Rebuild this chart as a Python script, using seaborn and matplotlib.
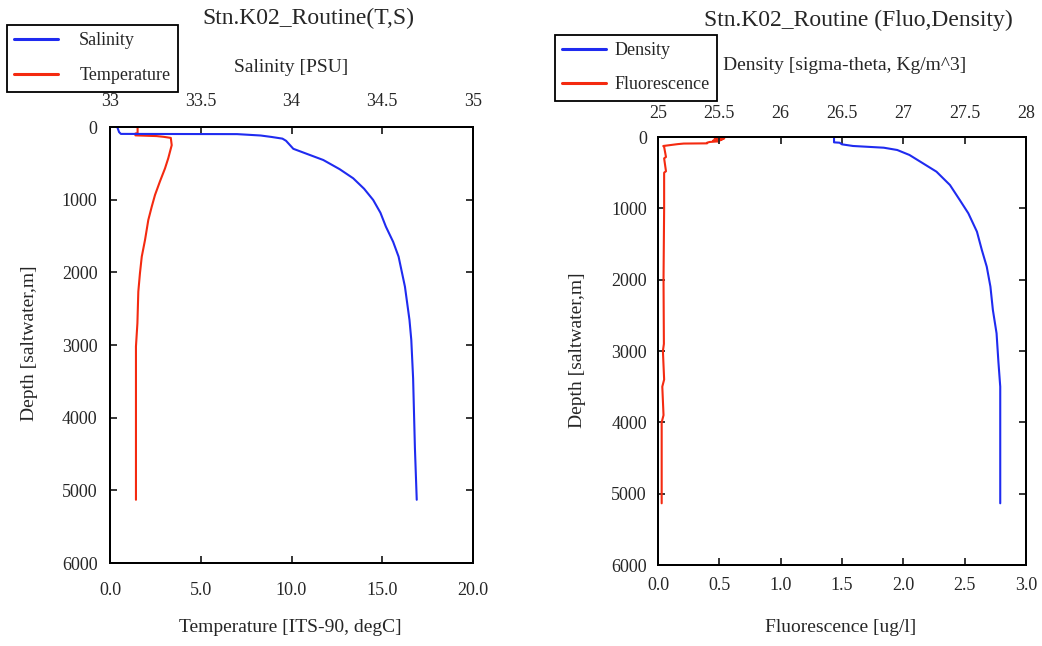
import matplotlib
matplotlib.use('Agg')
import matplotlib.pyplot as plt
import pandas as pd
import seaborn as sns
from matplotlib.lines import Line2D
from matplotlib.ticker import FormatStrFormatter

sns.set_style('ticks')
plt.rcParams['font.family'] = ['Liberation Serif', 'DejaVu Serif']

# --- profile data (depth in m) ---
sal_depth = [0, 70, 95, 98, 117, 137, 160, 190, 300, 454, 580, 706, 850,
             1004, 1180, 1371, 1580, 1784, 2197, 2655, 2930, 3457, 4420, 5130]
sal_vals = [33.04, 33.05, 33.06, 33.70, 33.83, 33.89, 33.95, 33.97, 34.01,
            34.175, 34.265, 34.34, 34.40, 34.45, 34.49, 34.52, 34.56, 34.59,
            34.625, 34.65, 34.66, 34.67, 34.68, 34.69]

temp_depth = [0, 85, 90, 115, 120, 125, 135, 150, 250, 430, 570, 750, 935,
              1096, 1280, 1554, 1784, 2013, 2265, 2700, 3020, 5130]
temp_vals = [1.52, 1.52, 1.40, 1.40, 1.97, 2.57, 2.95, 3.35, 3.40, 3.21, 3.03,
             2.75, 2.48, 2.30, 2.11, 1.93, 1.75, 1.65, 1.56, 1.51, 1.43, 1.43]

dens_depth = [0, 75, 80, 103, 126, 150, 182, 252, 369, 486, 673, 883, 1070,
              1327, 1584, 1818, 2098, 2425, 2752, 3150, 3500, 5135]
dens_vals = [26.435, 26.435, 26.48, 26.50, 26.59, 26.84, 26.95, 27.05, 27.16,
             27.27, 27.38, 27.46, 27.53, 27.60, 27.64, 27.68, 27.71, 27.73,
             27.76, 27.775, 27.79, 27.79]

fluo_depth = [0, 10, 20, 30, 40, 50, 60, 70, 80, 89, 92, 100, 126, 140, 280,
              300, 480, 500, 1000, 2000, 2900, 3000, 3400, 3500, 3900, 4000,
              5135]
fluo_vals = [0.50, 0.46, 0.54, 0.48, 0.52, 0.45, 0.50, 0.42, 0.40, 0.40, 0.21,
             0.16, 0.043, 0.05, 0.065, 0.05, 0.065, 0.05, 0.05, 0.045, 0.048,
             0.04, 0.05, 0.035, 0.045, 0.03, 0.03]

depth_ticks = [0, 1000, 2000, 3000, 4000, 5000, 6000]
sal_ticks = [33, 33.5, 34, 34.5, 35]
temp_ticks = [0, 5, 10, 15, 20]
dens_ticks = [25, 25.5, 26, 26.5, 27, 27.5, 28]
fluo_ticks = [0, 0.5, 1.0, 1.5, 2.0, 2.5, 3.0]

BLUE = '#1f2bf0'
RED = '#f42a10'
W, H = 1042, 646


def fx(px):
    return px / W


def fy(py):
    return 1 - py / H


def style_axis(ax, top=False):
    ax.tick_params(direction='in', length=5, width=1.3, labelsize=13,
                   top=top, bottom=not top, left=not top, right=not top,
                   labeltop=top, labelbottom=not top,
                   labelleft=not top, labelright=False)
    for s in ax.spines.values():
        s.set_visible(True)
        s.set_linewidth(1.4)
        s.set_color('black')


def panel(rect, bottom_df, bottom_col, bottom_ticks, bottom_fmt,
          top_df, top_col, top_ticks, top_fmt):
    ax = fig.add_axes(rect)
    sns.lineplot(data=bottom_df, x=bottom_col, y='Depth', sort=False,
                 estimator=None, color=RED, lw=1.5, ax=ax)
    ax.set_xlim(bottom_ticks[0], bottom_ticks[-1])
    ax.set_xticks(bottom_ticks)
    ax.xaxis.set_major_formatter(FormatStrFormatter(bottom_fmt))
    ax.set_ylim(6000, 0)
    ax.set_yticks(depth_ticks)
    ax.set_xlabel('')
    ax.set_ylabel('')
    style_axis(ax)

    ax2 = ax.twiny()
    sns.lineplot(data=top_df, x=top_col, y='Depth', sort=False,
                 estimator=None, color=BLUE, lw=1.5, ax=ax2)
    ax2.set_xlim(top_ticks[0], top_ticks[-1])
    ax2.set_xticks(top_ticks)
    ax2.xaxis.set_major_formatter(FormatStrFormatter(top_fmt))
    ax2.set_xlabel('')
    ax2.set_ylabel('')
    ax2.set_ylim(6000, 0)
    style_axis(ax2, top=True)
    return ax, ax2


fig = plt.figure(figsize=(W / 100, H / 100), dpi=100)

sal_df = pd.DataFrame({'Depth': sal_depth, 'Salinity': sal_vals})
temp_df = pd.DataFrame({'Depth': temp_depth, 'Temperature': temp_vals})
dens_df = pd.DataFrame({'Depth': dens_depth, 'Density': dens_vals})
fluo_df = pd.DataFrame({'Depth': fluo_depth, 'Fluorescence': fluo_vals})

# left panel: temperature (bottom) / salinity (top)
axL, axL2 = panel([fx(110), fy(563), fx(363), 436 / H],
                  temp_df, 'Temperature', temp_ticks, '%.1f',
                  sal_df, 'Salinity', sal_ticks, '%g')
axL.tick_params(axis='x', pad=14)
axL2.tick_params(axis='x', pad=12)
axL.tick_params(axis='y', pad=9)

# right panel: fluorescence (bottom) / density (top)
axR, axR2 = panel([fx(658), fy(565), fx(368), 428 / H],
                  fluo_df, 'Fluorescence', fluo_ticks, '%.1f',
                  dens_df, 'Density', dens_ticks, '%g')
axR.tick_params(axis='x', pad=9)
axR2.tick_params(axis='x', pad=11)
axR.tick_params(axis='y', pad=8)

# titles and axis labels
fig.text(fx(308), fy(18), 'Stn.K02_Routine(T,S)', ha='center', va='center',
         fontsize=17)
fig.text(fx(858), fy(20), 'Stn.K02_Routine (Fluo,Density)', ha='center',
         va='center', fontsize=17)
fig.text(fx(291), fy(68), 'Salinity [PSU]', ha='center', va='center',
         fontsize=14)
fig.text(fx(845), fy(65), 'Density [sigma-theta, Kg/m^3]', ha='center',
         va='center', fontsize=14)
fig.text(fx(290), fy(628), 'Temperature [ITS-90, degC]', ha='center',
         va='center', fontsize=14)
fig.text(fx(841), fy(628), 'Fluorescence [ug/l]', ha='center', va='center',
         fontsize=14)
fig.text(fx(30), fy(343), 'Depth [saltwater,m]', ha='center', va='center',
         rotation=90, fontsize=14)
fig.text(fx(577), fy(350), 'Depth [saltwater,m]', ha='center', va='center',
         rotation=90, fontsize=14)

# legends
leg_kw = dict(loc='upper left', fontsize=13, frameon=True, fancybox=False,
              framealpha=1, edgecolor='black', borderaxespad=0,
              handlelength=2.4, borderpad=0.4)
h_sal = Line2D([], [], color=BLUE, lw=2.2)
h_temp = Line2D([], [], color=RED, lw=2.2)
legL = fig.legend([h_sal, h_temp], ['Salinity', 'Temperature'],
                  bbox_to_anchor=(fx(7), fy(25)), handletextpad=1.2,
                  labelspacing=1.0, **leg_kw)
legL.get_frame().set_linewidth(1.3)
legR = fig.legend([h_sal, h_temp], ['Density', 'Fluorescence'],
                  bbox_to_anchor=(fx(555), fy(35)), handletextpad=0.5,
                  labelspacing=0.95, **leg_kw)
legR.get_frame().set_linewidth(1.3)

fig.savefig('out.png', dpi=100)
